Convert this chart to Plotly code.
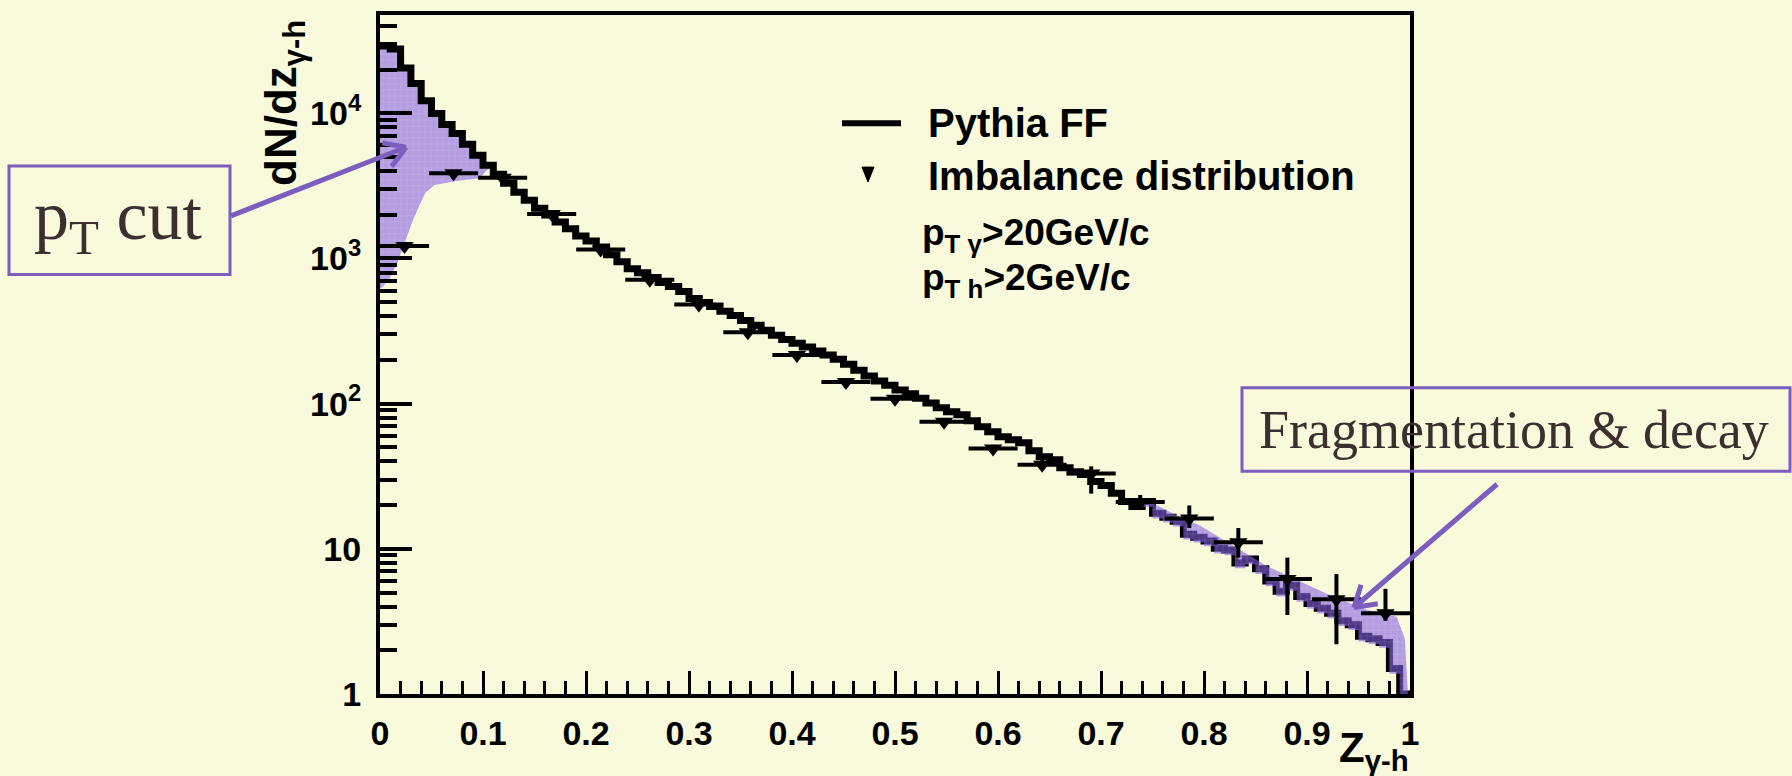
import math
import numpy as np
import plotly.graph_objects as go

# ---------------------------------------------------------------------------
# Data
# ---------------------------------------------------------------------------
# Pythia fragmentation-function prediction: 100 bins of width 0.01 in z
pythia_counts = [
    29100, 27700, 20500, 16000, 12200, 9950, 8370, 7260, 6110, 5130,
    4380, 3800, 3300, 2860, 2520, 2220, 1990, 1780, 1600, 1430,
    1320, 1200, 1060, 950, 850, 798, 738, 682, 640, 592,
    530, 498, 467, 432, 405, 374, 346, 320, 296, 277,
    261, 245, 230, 216, 202, 187, 170, 155, 143, 134,
    124, 117, 109, 101, 93.5, 87.8, 83.7, 76.1, 69.2, 64,
    59.2, 56.4, 53.8, 47.4, 43.1, 41.1, 36.2, 34.0, 32.5, 29.1,
    27.3, 24.1, 21.2, 19.6, 21.2, 17.6, 16.5, 15.5, 12.6, 12.0,
    11.3, 10.1, 9.8, 8.0, 8.5, 7.3, 6.0, 5.1, 5.6, 4.7,
    4.2, 3.9, 3.6, 3.2, 3.0, 2.5, 2.4, 2.26, 1.5, 1.0,
]

# Imbalance distribution: 21 bins spanning 0..1
imbalance_vals = [1220, 3860, 3600, 2020, 1150, 714, 482, 310, 216, 141,
                  108, 75, 49, 38, 33, 21, 16.2, 11.1, 6.2, 4.5, 3.6]
imbalance_err_up = [40, 80, 70, 40, 25, 15, 12, 9, 7, 5,
                    4, 3.5, 3, 3, 4, 2.5, 3.7, 2.8, 2.5, 2.2, 1.7]
imbalance_err_down = [40, 80, 70, 40, 25, 15, 12, 9, 7, 5,
                      4, 3.5, 3, 3, 9, 2.5, 2.3, 2.4, 2.7, 2.3, 0.4]

# Highlighted "pT cut" region: lower boundary (upper boundary is the Pythia curve)
ptcut_low_z = [0.0, 0.002, 0.010, 0.017, 0.024, 0.031, 0.037, 0.044, 0.053, 0.073, 0.097, 0.103]
ptcut_low_v = [620, 630, 738, 935, 1280, 1760, 2220, 2820, 3200, 3400, 3570, 4000]

# Highlighted "fragmentation & decay" band: upper boundary
frag_top_z = [0.745, 0.77, 0.796, 0.861, 0.925, 0.958, 0.987, 0.995, 0.998]
frag_top_v = [21.5, 17.5, 14.5, 7.6, 4.7, 3.8, 3.4, 2.4, 1.0]

x_tick_vals = [0, 0.1, 0.2, 0.3, 0.4, 0.5, 0.6, 0.7, 0.8, 0.9, 1.0]
x_tick_text = ["0", "0.1", "0.2", "0.3", "0.4", "0.5", "0.6", "0.7", "0.8", "0.9", "1"]
y_tick_vals = [1, 10, 100, 1000, 10000]
y_tick_text = ["1", "10", "10<sup>2</sup>", "10<sup>3</sup>", "10<sup>4</sup>"]

# ---------------------------------------------------------------------------
# Layout geometry
# ---------------------------------------------------------------------------
W, H = 1792, 776
L, R, T, B = 380, 382, 11, 82
PW, PH = W - L - R, H - T - B

BG = "#F9F9DB"
PURPLE = "#7B5EBE"
TEXT_DARK = "#3B2F2F"
SANS = "Liberation Sans, Arial, sans-serif"
SERIF = "Liberation Serif, Times New Roman, serif"


def px(X):
    return (X - L) / PW


def py(Y):
    return (H - B - Y) / PH


# ---------------------------------------------------------------------------
# Derived series
# ---------------------------------------------------------------------------
n_bins = len(pythia_counts)
edges = np.linspace(0.0, 1.0, n_bins + 1)
step_x = list(edges)
step_y = list(pythia_counts) + [pythia_counts[-1]]

n_imb = len(imbalance_vals)
imb_w = 1.0 / n_imb
imb_x = [(k + 0.5) * imb_w for k in range(n_imb)]

# pT-cut region polygon: lower edge left->right, then Pythia steps back to z=0
pt_x = list(ptcut_low_z)
pt_y = list(ptcut_low_v)
for i in range(10, -1, -1):
    pt_x += [edges[i + 1], edges[i]]
    pt_y += [pythia_counts[i], pythia_counts[i]]
pt_x.append(ptcut_low_z[0])
pt_y.append(ptcut_low_v[0])

# fragmentation band polygon: smooth top edge, then just below the Pythia steps
fr_x = list(frag_top_z) + [1.0]
fr_y = list(frag_top_v) + [0.5]
for i in range(n_bins - 1, 73, -1):
    fr_x += [edges[i + 1], edges[i]]
    fr_y += [pythia_counts[i] * 0.92, pythia_counts[i] * 0.92]
fr_x.append(frag_top_z[0])
fr_y.append(frag_top_v[0])

overlay_pattern = dict(shape="+", size=6, solidity=0.22,
                       bgcolor="rgba(130,92,228,0.58)",
                       fgcolor="rgba(255,255,255,0.30)")

fig = go.Figure()

fig.add_trace(go.Scatter(
    x=pt_x, y=pt_y, mode="lines", fill="toself",
    line=dict(width=0, color="rgba(0,0,0,0)"),
    fillpattern=overlay_pattern, hoverinfo="skip", showlegend=False,
))

fig.add_trace(go.Scatter(
    x=step_x, y=step_y, mode="lines", line_shape="hv",
    line=dict(color="black", width=7), name="Pythia FF", showlegend=False,
))

fig.add_trace(go.Scatter(
    x=fr_x, y=fr_y, mode="lines", fill="toself",
    line=dict(width=0, color="rgba(0,0,0,0)"),
    fillpattern=overlay_pattern, hoverinfo="skip", showlegend=False,
))

fig.add_trace(go.Scatter(
    x=imb_x, y=imbalance_vals, mode="markers",
    marker=dict(symbol="triangle-down", size=16, color="black"),
    error_x=dict(type="constant", value=imb_w / 2, color="black", thickness=4, width=0),
    error_y=dict(type="data", array=imbalance_err_up, arrayminus=imbalance_err_down,
                 color="black", thickness=4, width=0),
    name="Imbalance distribution", showlegend=False,
))

# ---------------------------------------------------------------------------
# Decorations: legend, labels, call-out boxes and arrows
# ---------------------------------------------------------------------------
shapes = []
annotations = []

# legend entries
shapes.append(dict(type="line", xref="paper", yref="paper",
                   x0=px(842), x1=px(901), y0=py(120), y1=py(120),
                   line=dict(color="black", width=6)))
tri_cx, tri_cy = 868, 171
shapes.append(dict(type="path", xref="paper", yref="paper",
                   path=f"M {px(tri_cx - 6)} {py(tri_cy - 7)} L {px(tri_cx + 6)} {py(tri_cy - 7)} "
                        f"L {px(tri_cx)} {py(tri_cy + 8)} Z",
                   fillcolor="black", line=dict(color="black", width=1)))

bold = dict(family=SANS, color="black", weight="bold")
annotations.append(dict(text="Pythia FF", x=px(926), y=py(120), xref="paper", yref="paper",
                        xanchor="left", yanchor="middle", showarrow=False,
                        font=dict(size=40, **bold)))
annotations.append(dict(text="Imbalance distribution", x=px(926), y=py(173),
                        xref="paper", yref="paper", xanchor="left", yanchor="middle",
                        showarrow=False, font=dict(size=40, **bold)))
annotations.append(dict(text="p<sub>T γ</sub>&gt;20GeV/c", x=px(920), y=py(207),
                        xref="paper", yref="paper", xanchor="left", yanchor="top",
                        showarrow=False, font=dict(size=37, **bold)))
annotations.append(dict(text="p<sub>T h</sub>&gt;2GeV/c", x=px(920), y=py(252),
                        xref="paper", yref="paper", xanchor="left", yanchor="top",
                        showarrow=False, font=dict(size=37, **bold)))

# axis titles
annotations.append(dict(text="dN/dz<sub>γ-h</sub>", x=px(284), y=py(14),
                        xref="paper", yref="paper", xanchor="center", yanchor="top",
                        textangle=-90, showarrow=False, font=dict(size=44, **bold)))
annotations.append(dict(text="Z<sub>γ-h</sub>", x=px(1411), y=py(722),
                        xref="paper", yref="paper", xanchor="right", yanchor="top",
                        showarrow=False, font=dict(size=42, **bold)))

# call-out boxes
shapes.append(dict(type="rect", xref="paper", yref="paper",
                   x0=px(9), x1=px(230), y0=py(163), y1=py(272),
                   line=dict(color=PURPLE, width=3), fillcolor=BG, layer="above"))
annotations.append(dict(text="p<sub>T</sub> cut", x=px(118), y=py(218),
                        xref="paper", yref="paper", xanchor="center", yanchor="middle",
                        showarrow=False, font=dict(family=SERIF, size=70, color=TEXT_DARK)))

shapes.append(dict(type="rect", xref="paper", yref="paper",
                   x0=px(1242), x1=px(1790), y0=py(386), y1=py(470),
                   line=dict(color=PURPLE, width=3), fillcolor="rgba(0,0,0,0)", layer="above"))
annotations.append(dict(text="Fragmentation &amp; decay", x=px(1514), y=py(428),
                        xref="paper", yref="paper", xanchor="center", yanchor="middle",
                        showarrow=False, font=dict(family=SERIF, size=54, color=TEXT_DARK)))


def open_arrow(x0, y0, x1, y1, head=24, spread=32):
    """Shaft from (x0, y0) to (x1, y1) in pixels, with an open V head at (x1, y1)."""
    dx, dy = x1 - x0, y1 - y0
    n = math.hypot(dx, dy)
    bx, by = -dx / n, -dy / n  # unit vector pointing back along the shaft
    style = dict(color=PURPLE, width=5)
    out = [dict(type="line", xref="paper", yref="paper",
                x0=px(x0), y0=py(y0), x1=px(x1), y1=py(y1),
                line=style, layer="above")]
    for sgn in (1, -1):
        a = math.radians(spread) * sgn
        hx = x1 + head * (bx * math.cos(a) - by * math.sin(a))
        hy = y1 + head * (bx * math.sin(a) + by * math.cos(a))
        out.append(dict(type="line", xref="paper", yref="paper",
                        x0=px(x1), y0=py(y1), x1=px(hx), y1=py(hy),
                        line=style, layer="above"))
    return out


shapes += open_arrow(231, 213, 406, 144)
shapes += open_arrow(1497, 483, 1354, 607)

# ---------------------------------------------------------------------------
# Axes
# ---------------------------------------------------------------------------
y_minor = []
for dec in range(0, 5):
    for m in range(2, 10):
        v = m * 10 ** dec
        if v < 4.75e4:
            y_minor.append(v)

tickfont = dict(family=SANS, size=34, color="black", weight="bold")

fig.update_layout(
    width=W, height=H,
    margin=dict(l=L, r=R, t=T, b=B, pad=0),
    paper_bgcolor=BG, plot_bgcolor=BG,
    showlegend=False,
    shapes=shapes, annotations=annotations,
    xaxis=dict(
        range=[0, 1], showgrid=False, zeroline=False,
        showline=True, linecolor="black", linewidth=4, mirror=True,
        tickmode="array", tickvals=x_tick_vals, ticktext=x_tick_text,
        ticks="inside", ticklen=23, tickwidth=3, tickcolor="black",
        tickfont=tickfont, ticklabelstandoff=6,
        minor=dict(tickmode="linear", tick0=0, dtick=0.02, ticks="inside",
                   ticklen=13, tickwidth=3, tickcolor="black", showgrid=False),
    ),
    yaxis=dict(
        type="log", range=[0, math.log10(4.75e4)], showgrid=False, zeroline=False,
        showline=True, linecolor="black", linewidth=4, mirror=True,
        tickmode="array", tickvals=y_tick_vals, ticktext=y_tick_text,
        ticks="inside", ticklen=32, tickwidth=4, tickcolor="black",
        tickfont=tickfont, ticklabelstandoff=8,
        minor=dict(tickmode="array", tickvals=y_minor, ticks="inside",
                   ticklen=17, tickwidth=4, tickcolor="black", showgrid=False),
    ),
)

fig.write_html("out.html")
